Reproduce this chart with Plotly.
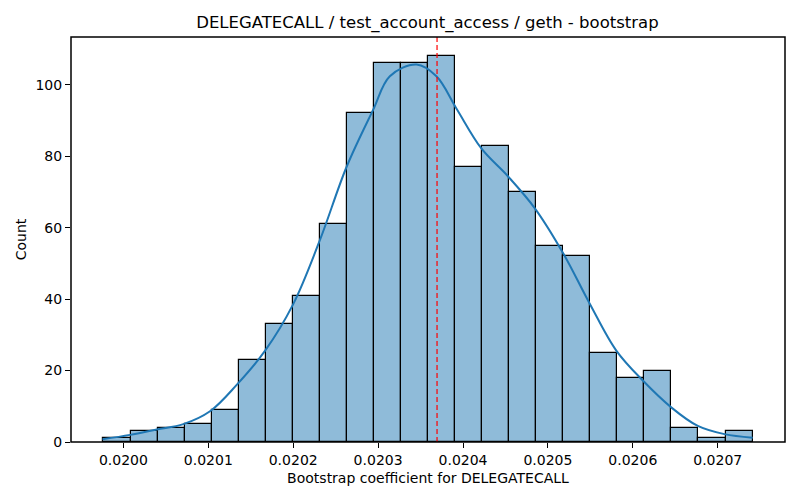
import numpy as np
from plotly import graph_objects as go

# Histograma bootstrap (24 bins, 1000 muestras)
bin_lo = 0.0199765
bin_hi = 0.0207410
counts = [1, 3, 4, 5, 9, 23, 33, 41, 61, 92, 106, 106,
          108, 77, 83, 70, 55, 52, 25, 18, 20, 4, 1, 3]

# Curva KDE
kde_x = [0.0199753, 0.0200079, 0.0200393, 0.0200706, 0.0201020, 0.0201334,
         0.0201667, 0.0202000, 0.0202314, 0.0202628, 0.0202941, 0.0203138,
         0.0203452, 0.0203687, 0.0203922, 0.0204216, 0.0204529, 0.0204844,
         0.0205176, 0.0205491, 0.0205805, 0.0206118, 0.0206452, 0.0206765,
         0.0207079, 0.0207412]
kde_y = [0.8, 2.0, 3.5, 5.0, 8.6, 16.0, 25.5, 38.6, 56.5, 77.0, 93.0, 102.4,
         105.7, 102.4, 93.4, 82.2, 74.4, 65.5, 53.0, 38.8, 25.6, 17.2, 9.7,
         4.5, 2.2, 1.2]

mean_val = 0.0203694

titulo = "DELEGATECALL / test_account_access / geth - bootstrap"
x_label = "Bootstrap coefficient for DELEGATECALL"
y_label = "Count"

edges = np.linspace(bin_lo, bin_hi, len(counts) + 1)
centros = (edges[:-1] + edges[1:]) / 2
ancho = edges[1] - edges[0]

fig = go.Figure()
fig.add_trace(go.Bar(
    x=centros,
    y=counts,
    width=ancho,
    marker=dict(color="rgba(31,119,180,0.5)", line=dict(color="black", width=1.2)),
    showlegend=False,
))
fig.add_trace(go.Scatter(
    x=kde_x,
    y=kde_y,
    mode="lines",
    line=dict(color="#1f77b4", width=2, shape="spline", smoothing=1.0),
    showlegend=False,
))
fig.add_shape(type="line", x0=mean_val, x1=mean_val, y0=0, y1=1, yref="paper",
              line=dict(color="red", width=1.2, dash="5px,3px"))
# marco de los ejes
fig.add_shape(type="rect", xref="paper", yref="paper", x0=0, x1=1, y0=0, y1=1,
              line=dict(color="black", width=1.5), fillcolor="rgba(0,0,0,0)",
              layer="above")

# la pagina tiene 8px de margen en el body: figura de 784x484 para que quepa
rango = bin_hi - bin_lo
fig.update_layout(
    width=784, height=484,
    margin=dict(l=63, r=7, t=29, b=50, autoexpand=False),
    paper_bgcolor="white", plot_bgcolor="white",
    font=dict(family="DejaVu Sans", size=14, color="black"),
    title=dict(text=titulo, x=0.535, xanchor="center", y=1 - 14 / 484, yanchor="middle",
               font=dict(size=16.5)),
    bargap=0,
    xaxis=dict(
        title=dict(text=x_label, standoff=6, font=dict(size=14)),
        range=[bin_lo - 0.05 * rango, bin_hi + 0.05 * rango],
        tick0=0.02, dtick=0.0001, tickformat=".4f",
        ticks="outside", ticklen=5, tickcolor="black",
        showgrid=False, zeroline=False, automargin=False,
    ),
    yaxis=dict(
        title=dict(text=y_label, standoff=5, font=dict(size=14)),
        range=[0, 113.4], dtick=20,
        ticks="outside", ticklen=5, tickcolor="black",
        showgrid=False, zeroline=False, automargin=False,
    ),
)

fig.write_html("out.html")
